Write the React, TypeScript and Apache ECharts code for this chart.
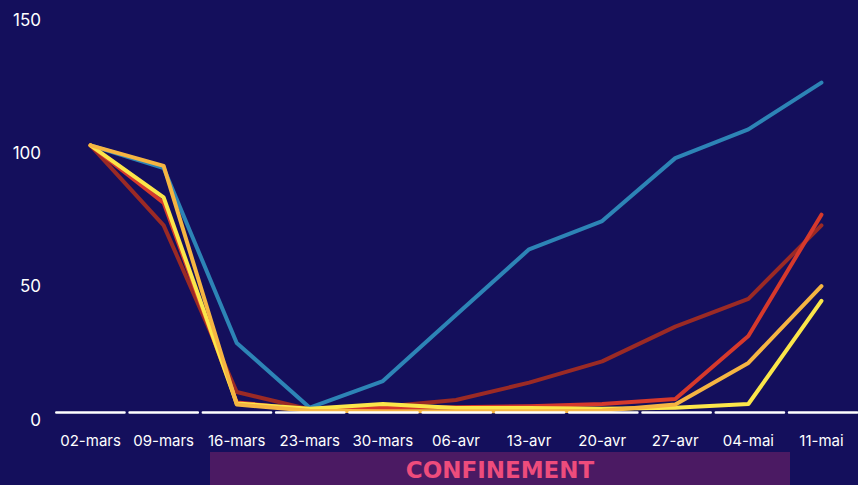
import React, { useEffect, useRef } from "react";
import * as echarts from "echarts";

const categories = ["02-mars", "09-mars", "16-mars", "23-mars", "30-mars", "06-avr", "13-avr", "20-avr", "27-avr", "04-mai", "11-mai"];
const yTicks = [0, 50, 100, 150];

const blueValues = [100, 91.5, 25.9, 1.6, 11.6, 36.4, 61, 71.6, 95.2, 106, 123.5];
const darkRedValues = [100, 70, 7.5, 1, 2, 4.5, 11, 19, 32, 42.4, 70];
const redValues = [100, 78.4, 3.6, 0.8, 1.5, 1.8, 2.2, 3, 4.9, 28.5, 74];
const yellowValues = [100, 80.5, 3.2, 1.2, 3, 1.5, 1.5, 1.2, 1.6, 3, 41.7];
const orangeValues = [100, 92.3, 2.8, 0.5, 0.3, 0.3, 0.3, 0.5, 2.8, 18.4, 47.2];

const seriesDefs = [
  { name: "bleu", color: "#2d84b6", data: blueValues },
  { name: "rouge foncé", color: "#9b2a25", data: darkRedValues },
  { name: "rouge", color: "#d6392c", data: redValues },
  { name: "jaune", color: "#fbe64a", data: yellowValues },
  { name: "orange", color: "#f6b542", data: orangeValues },
];

const FONT = "Inter, 'Open Sans', sans-serif";

export default function App() {
  const ref = useRef<HTMLDivElement>(null);
  useEffect(() => {
    if (!ref.current) return;
    const chart = echarts.init(ref.current, undefined, { renderer: "svg" });
    const band = 806 / categories.length;
    chart.setOption({
      animation: false,
      backgroundColor: "#140f5c",
      grid: { left: 54, top: 12, width: 806, height: 400 },
      xAxis: {
        type: "category",
        data: categories,
        boundaryGap: true,
        z: 5,
        axisTick: { show: false },
        axisLine: {
          show: true,
          lineStyle: { color: "#ffffff", width: 2.5, type: [band - 5, 5], dashOffset: band - 2 },
        },
        axisLabel: { color: "#ffffff", fontSize: 15, fontFamily: FONT, margin: 21, interval: 0 },
      },
      yAxis: {
        type: "value",
        min: yTicks[0],
        max: yTicks[yTicks.length - 1],
        interval: 50,
        splitLine: { show: false },
        axisLine: { show: false },
        axisTick: { show: false },
        axisLabel: {
          color: "#ffffff",
          fontSize: 17,
          fontFamily: FONT,
          margin: 13,
          verticalAlign: "top",
          lineHeight: 15,
        },
      },
      series: seriesDefs.map((s) => ({
        name: s.name,
        type: "line",
        data: s.data,
        symbol: "none",
        lineStyle: { color: s.color, width: 4, cap: "round", join: "round" },
        itemStyle: { color: s.color },
      })),
      graphic: [
        { type: "rect", left: 210, top: 452, shape: { width: 580, height: 40 }, style: { fill: "#4b1a63" }, z: 1 },
        {
          type: "text",
          x: 500,
          y: 470,
          z: 2,
          style: {
            text: "CONFINEMENT",
            fill: "#ee4c7c",
            font: "bold 23px 'DejaVu Sans', sans-serif",
            textAlign: "center",
            textVerticalAlign: "middle",
          },
        },
      ],
    });
    return () => chart.dispose();
  }, []);
  return <div ref={ref} style={{ width: 858, height: 485, position: "absolute", left: 0, top: 0 }} />;
}
